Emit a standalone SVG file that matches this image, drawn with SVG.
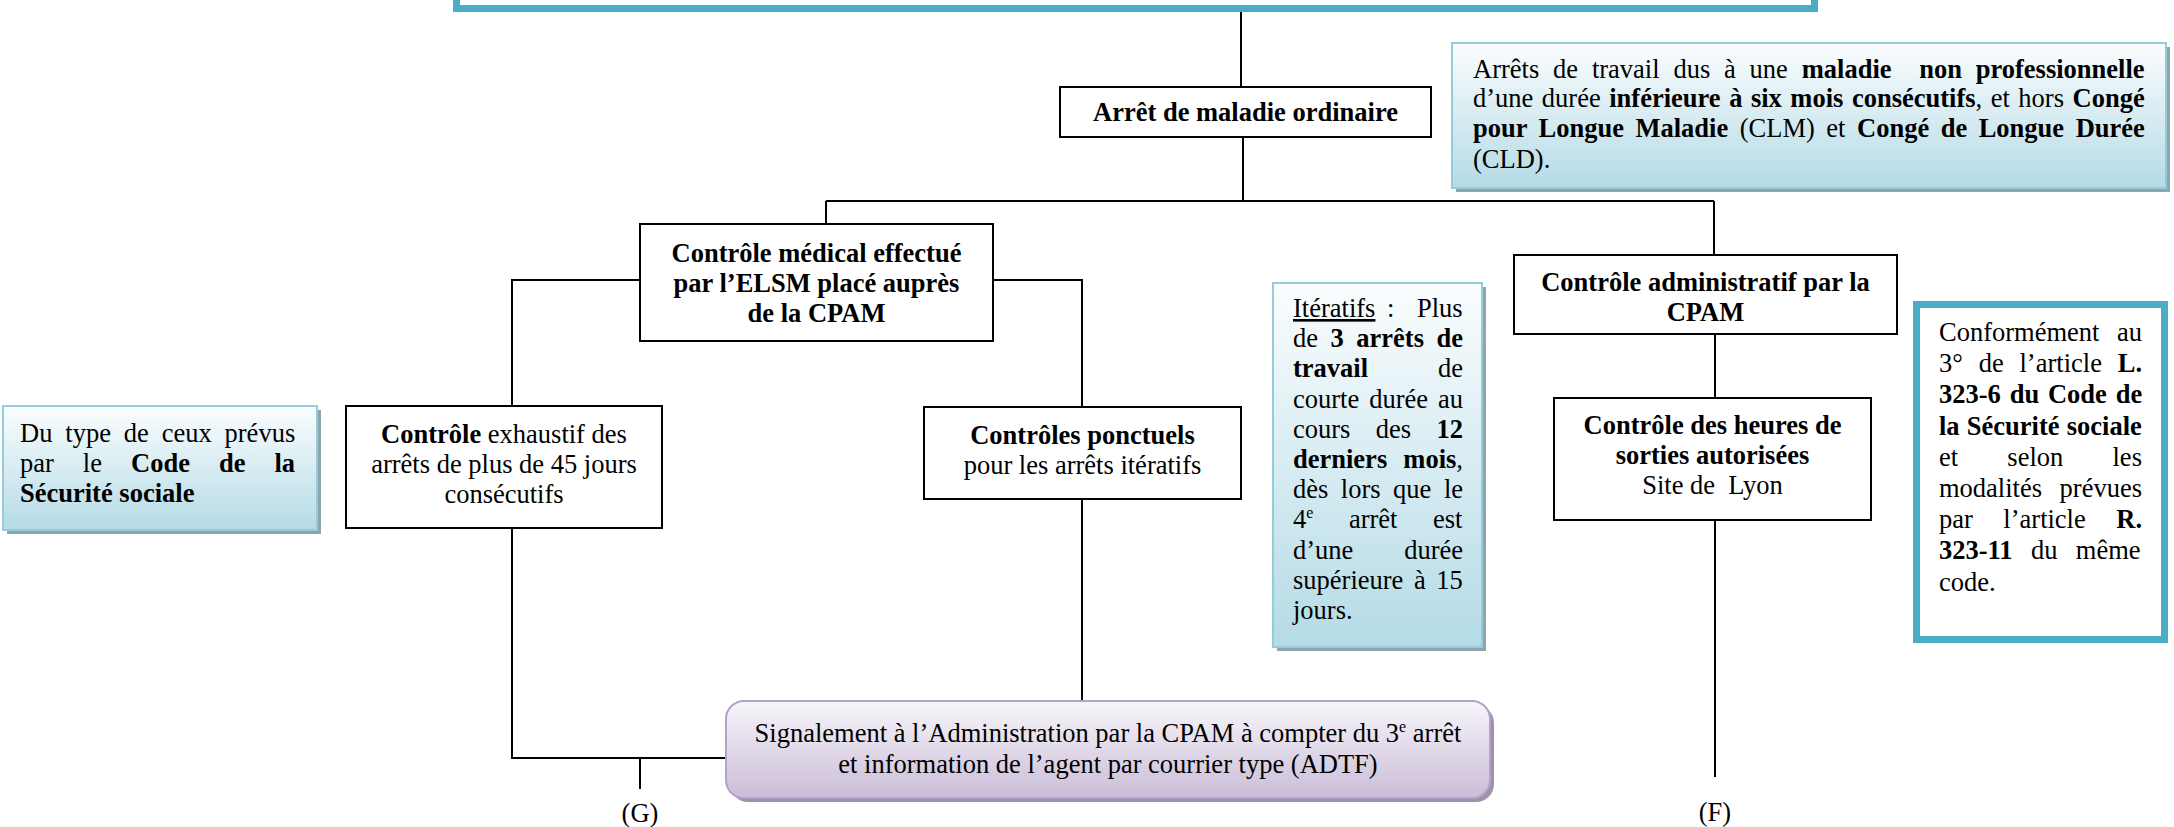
<svg xmlns="http://www.w3.org/2000/svg" width="2174" height="827" viewBox="0 0 2174 827">
  <defs>
    <linearGradient id="noteFill" x1="0" y1="0" x2="0" y2="1">
      <stop offset="0" stop-color="#FBFDFE"/>
      <stop offset="1" stop-color="#B4DBE6"/>
    </linearGradient>
    <linearGradient id="purpleFill" x1="0" y1="0" x2="0" y2="1">
      <stop offset="0" stop-color="#F8F6FA"/>
      <stop offset="1" stop-color="#CABDD8"/>
    </linearGradient>
    <style>
      text { font-family: "Liberation Serif", "Times New Roman", serif; font-size: 26.5px; fill: #000; }
      .b { font-weight: bold; }
      .c { text-anchor: middle; }
      .u { text-decoration: underline; }
      .box { fill: #fff; stroke: #000; stroke-width: 2; }
      .frame { fill: #fff; stroke: #4BACC6; stroke-width: 7; }
      .note { fill: url(#noteFill); stroke: #93CDDC; stroke-width: 2; }
      .shadow { fill: #91A4AE; }
      .wire { fill: none; stroke: #000; stroke-width: 2; }
      .sup { font-size: 16px; }
    </style>
  </defs>

  <!-- title frame, cut by the top edge -->
  <g id="top-frame">
    <rect class="frame" x="456.5" y="-40" width="1358" height="48.5"/>
  </g>

  <!-- connectors -->
  <g id="connectors">
    <path class="wire" d="M1241 12 V87"/>
    <path class="wire" d="M1243 137 V201"/>
    <path class="wire" d="M826 201 H1714"/>
    <path class="wire" d="M826 201 V224"/>
    <path class="wire" d="M1714 201 V255"/>
    <path class="wire" d="M640 280 H512 V406"/>
    <path class="wire" d="M993 280 H1082 V407"/>
    <path class="wire" d="M512 528 V758 H726"/>
    <path class="wire" d="M640 758 V789"/>
    <path class="wire" d="M1082 499 V701"/>
    <path class="wire" d="M1715 334 V398"/>
    <path class="wire" d="M1715 520 V777"/>
  </g>

  <g id="arret-maladie">
    <rect class="box" x="1060" y="87" width="371" height="50"/>
    <text class="b c" x="1245.5" y="121">Arrêt de maladie ordinaire</text>
  </g>

  <g id="controle-medical">
    <rect class="box" x="640" y="224" width="353" height="117"/>
    <text class="b c" x="816.5" y="261.5">Contrôle médical effectué</text>
    <text class="b c" x="816.5" y="291.5">par l’ELSM placé auprès</text>
    <text class="b c" x="816.5" y="321.5">de la CPAM</text>
  </g>

  <g id="controle-exhaustif">
    <rect class="box" x="346" y="406" width="316" height="122"/>
    <text class="c" x="504" y="443"><tspan class="b">Contrôle</tspan> exhaustif des</text>
    <text class="c" x="504" y="473">arrêts de plus de 45 jours</text>
    <text class="c" x="504" y="503">consécutifs</text>
  </g>

  <g id="controles-ponctuels">
    <rect class="box" x="924" y="407" width="317" height="92"/>
    <text class="b c" x="1082.5" y="444">Contrôles ponctuels</text>
    <text class="c" x="1082.5" y="474">pour les arrêts itératifs</text>
  </g>

  <g id="controle-administratif">
    <rect class="box" x="1514" y="255" width="383" height="79"/>
    <text class="b c" x="1705.5" y="291">Contrôle administratif par la</text>
    <text class="b c" x="1705.5" y="321">CPAM</text>
  </g>

  <g id="controle-heures">
    <rect class="box" x="1554" y="398" width="317" height="122"/>
    <text class="b c" x="1712.5" y="434">Contrôle des heures de</text>
    <text class="b c" x="1712.5" y="464">sorties autorisées</text>
    <text class="c" x="1712.5" y="494">Site de&#160; Lyon</text>
  </g>

  <g id="signalement">
    <rect x="730" y="705" width="764" height="97" rx="18" fill="#9D92A9"/>
    <rect x="726" y="701" width="764" height="97" rx="18" fill="url(#purpleFill)" stroke="#B3A2CA" stroke-width="2"/>
    <text class="c" x="1108" y="742">Signalement à l’Administration par la CPAM à compter du 3<tspan class="sup" dy="-10">e</tspan><tspan dy="10"> arrêt</tspan></text>
    <text class="c" x="1108" y="773">et information de l’agent par courrier type (ADTF)</text>
  </g>

  <g id="label-g">
    <text class="c" x="640" y="822">(G)</text>
  </g>
  <g id="label-f">
    <text class="c" x="1715" y="821">(F)</text>
  </g>

  <g id="note-definition">
    <rect class="shadow" x="1456" y="47" width="714" height="145"/>
    <rect class="note" x="1452" y="43" width="714" height="145"/>
    <text x="1473" y="78" word-spacing="7.2">Arrêts de travail dus à une <tspan class="b">maladie&#160; non professionnelle</tspan></text>
    <text x="1473" y="107" word-spacing="1.9">d’une durée <tspan class="b">inférieure à six mois consécutifs</tspan>, et hors <tspan class="b">Congé</tspan></text>
    <text x="1473" y="137" word-spacing="4.9"><tspan class="b">pour Longue Maladie</tspan> (CLM) et <tspan class="b">Congé de Longue Durée</tspan></text>
    <text x="1473" y="167.5">(CLD).</text>
  </g>

  <g id="note-iteratifs">
    <rect class="shadow" x="1277" y="287" width="209" height="364"/>
    <rect class="note" x="1273" y="283" width="209" height="364"/>
    <text x="1293" y="317"><tspan class="u">Itératifs</tspan><tspan x="1387">:</tspan><tspan x="1417">Plus</tspan></text>
    <text x="1293" y="347.2" word-spacing="5.9">de <tspan class="b">3 arrêts de</tspan></text>
    <text x="1293" y="377.4" word-spacing="63.3"><tspan class="b">travail</tspan> de</text>
    <text x="1293" y="407.6" word-spacing="3.3">courte durée au</text>
    <text x="1293" y="437.8" word-spacing="18.8">cours des <tspan class="b">12</tspan></text>
    <text x="1293" y="468" word-spacing="9.5"><tspan class="b">derniers mois</tspan>,</text>
    <text x="1293" y="498.2" word-spacing="5.9">dès lors que le</text>
    <text x="1293" y="528.4" word-spacing="28.9">4<tspan class="sup" dy="-10">e</tspan><tspan dy="10"> arrêt est</tspan></text>
    <text x="1293" y="558.6" word-spacing="44.2">d’une durée</text>
    <text x="1293" y="588.8" word-spacing="4">supérieure à 15</text>
    <text x="1293" y="619">jours.</text>
  </g>

  <g id="note-code">
    <rect class="shadow" x="7" y="410" width="314" height="124"/>
    <rect class="note" x="3" y="406" width="314" height="124"/>
    <text x="20" y="442" word-spacing="6.25">Du type de ceux prévus</text>
    <text x="20" y="472" word-spacing="22.4">par le <tspan class="b">Code de la</tspan></text>
    <text class="b" x="20" y="502">Sécurité sociale</text>
  </g>

  <g id="note-article">
    <rect class="frame" x="1916.5" y="304.5" width="248" height="335"/>
    <text x="1939" y="341" word-spacing="11">Conformément au</text>
    <text x="1939" y="372.2" word-spacing="9.2">3° de l’article <tspan class="b">L.</tspan></text>
    <text class="b" x="1939" y="403.4" word-spacing="2.2">323-6 du Code de</text>
    <text class="b" x="1939" y="434.6" word-spacing="0.6">la Sécurité sociale</text>
    <text x="1939" y="465.8" word-spacing="42.6">et selon les</text>
    <text x="1939" y="497" word-spacing="10.9">modalités prévues</text>
    <text x="1939" y="528.2" word-spacing="23.9">par l’article <tspan class="b">R.</tspan></text>
    <text x="1939" y="559.4" word-spacing="11.7"><tspan class="b">323-11</tspan> du même</text>
    <text x="1939" y="590.6">code.</text>
  </g>
</svg>
